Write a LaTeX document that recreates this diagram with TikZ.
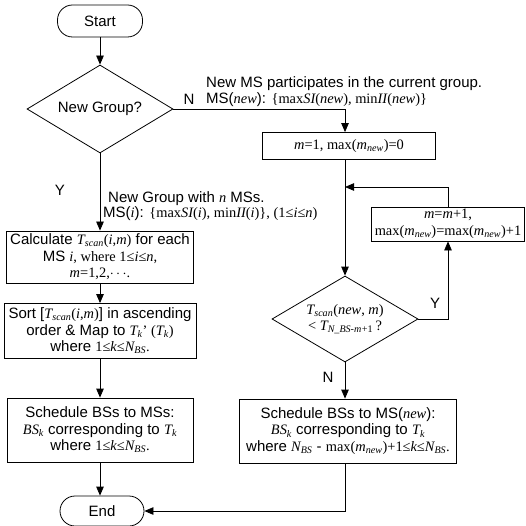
\documentclass[tikz,border=0pt]{standalone}
\usepackage{fontspec}
\setmainfont{Liberation Sans}
\newfontfamily\tm[Scale=0.96]{Liberation Serif}
\usetikzlibrary{shapes.geometric,arrows.meta}
\newcommand\mi[1]{{\tm\itshape #1}}
\newcommand\mr[1]{{\tm #1}}
\newcommand\sbs[1]{\textsubscript{\tm\itshape #1}}
\begin{document}
\begin{tikzpicture}[x=1pt,y=-1pt,
  every node/.style={font=\fontsize{15}{16.5}\selectfont},
  box/.style={draw,line width=0.8pt,rectangle,align=center,inner sep=0.5pt},
  term/.style={draw,line width=0.8pt,rectangle,rounded corners=15pt,minimum width=85pt,minimum height=32pt},
  dec/.style={draw,line width=0.8pt,diamond,aspect=1.7,align=center,inner sep=0pt},
  arr/.style={line width=0.8pt,-{Triangle[length=9pt,width=7.5pt]}},
  lab/.style={anchor=west,inner sep=0pt,align=left}]
\useasboundingbox (0,0) rectangle (526,526);
% left column
\node[term] (start) at (100,21) {Start};
\node[dec,minimum width=146pt,minimum height=88pt] (d1) at (100,109) {New Group?};
\node[box,minimum width=187pt,minimum height=52pt] (calc) at (100,257)
  {Calculate \mi{T}\sbs{scan}\mr{(}\mi{i}\mr{,}\mi{m}\mr{)} for each\\
   MS \mi{i}\mr{, where 1≤}\mi{i}\mr{≤}\mi{n}\mr{,}\\
   \mi{m}\mr{=1,2,}$\cdots$\mr{.}};
\node[box,minimum width=192pt,minimum height=55pt] (sort) at (100,331)
  {Sort [\mi{T}\sbs{scan}\mr{(}\mi{i}\mr{,}\mi{m}\mr{)}] in ascending\\
   order \& Map to \mi{T}\sbs{k}\mr{’ (}\mi{T}\sbs{k}\mr{)}\\
   where \mr{1≤}\mi{k}\mr{≤}\mi{N}\sbs{BS}\mr{.}};
\node[box,minimum width=186pt,minimum height=64pt] (sch1) at (100,430)
  {Schedule BSs to MSs:\\
   \mi{BS}\sbs{k} corresponding to \mi{T}\sbs{k}\\
   where \mr{1≤}\mi{k}\mr{≤}\mi{N}\sbs{BS}\mr{.}};
\node[term,minimum width=84pt,minimum height=30pt] (end) at (102,511) {End};
% right column
\coordinate (rc) at (345,0);
\node[box,minimum width=173pt,minimum height=27pt] (m1) at (349,146)
  {\mi{m}\mr{=1, max(}\mi{m}\sbs{new}\mr{)=0}};
\node[box,minimum width=153pt,minimum height=34pt,inner xsep=0pt] (inc) at (448,224)
  {\mi{m}\mr{=}\mi{m}\mr{+1,}\\ \mr{max(}\mi{m}\sbs{new}\mr{)=max(}\mi{m}\sbs{new}\mr{)+1}};
\coordinate (fb) at (345,187);
\node[dec,minimum width=146pt,minimum height=86pt] (d2) at (345,319)
  {\mi{T}\sbs{scan}\mr{(}\mi{new}\mr{, }\mi{m}\mr{)}\\ \mr{< }\mi{T}\sbs{N\_BS-m}\textsubscript{\tm +1}\,\mr{?}};
\node[box,minimum width=217pt,minimum height=64pt] (sch2) at (348,431)
  {Schedule BSs to MS(\mi{new}):\\
   \mi{BS}\sbs{k} corresponding to \mi{T}\sbs{k}\\
   where \mi{N}\sbs{BS} - \mr{max(}\mi{m}\sbs{new}\mr{)+1≤}\mi{k}\mr{≤}\mi{N}\sbs{BS}\mr{.}};
% labels
\node (lN1) at (189,99) {N};
\node[lab] (t1) at (206,84) {New MS participates in the current group.};
\node[lab] (t2) at (206,100) {MS(\mi{new}): \mr{\{max}\mi{SI}\mr{(}\mi{new}\mr{), min}\mi{II}\mr{(}\mi{new}\mr{)\}}};
\node (lY1) at (60,190) {Y};
\node[lab] (t3) at (108,199) {New Group with \mi{n} MSs.};
\node[lab] (t4) at (103,214) {MS(\mi{i}): \mr{\{max}\mi{SI}\mr{(}\mi{i}\mr{), min}\mi{II}\mr{(}\mi{i}\mr{)\}, (1≤}\mi{i}\mr{≤}\mi{n}\mr{)}};
\node (lY2) at (435,303) {Y};
\node (lN2) at (328,377) {N};
% connectors
\draw[arr] (start) -- (d1);
\draw[arr] (d1.east) -| (m1.north -| rc);
\draw[arr] (d1.south) -- (d1.south |- calc.north);
\draw[arr] (calc.south) -- (calc.south |- sort.north);
\draw[arr] (sort.south) -- (sort.south |- sch1.north);
\draw[arr] (sch1.south) -- (sch1.south |- end.north);
\draw[arr] (m1.south -| rc) -- (d2.north);
\draw[arr] (inc.north) |- (fb);
\draw[arr] (d2.east) -| (inc.south);
\draw[arr] (d2.south) -- (d2.south |- sch2.north);
\draw[arr] (sch2.south -| d2.south) |- (end.east);
\end{tikzpicture}
\end{document}
